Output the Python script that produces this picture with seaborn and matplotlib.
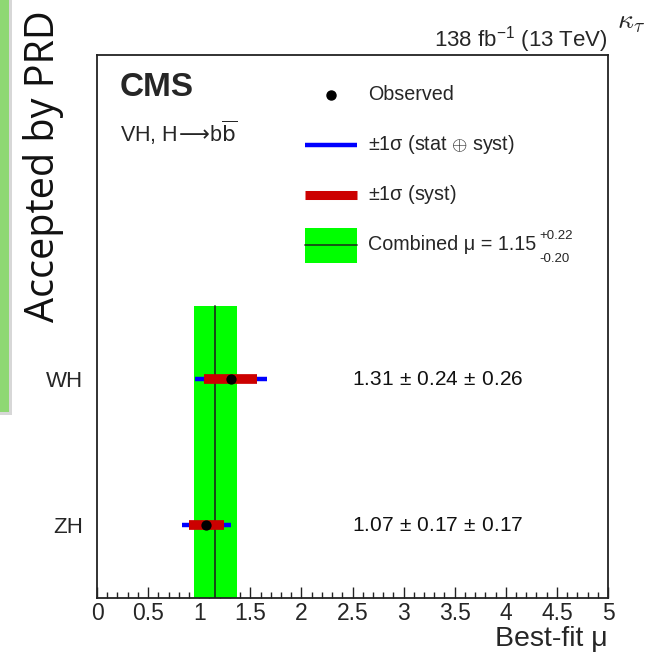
import numpy as np
import pandas as pd
import matplotlib
matplotlib.use("Agg")
import matplotlib.pyplot as plt
import seaborn as sns
from matplotlib.ticker import MultipleLocator
from matplotlib.patches import Rectangle

# ---- data ----
channels = ["WH", "ZH"]
mu = [1.31, 1.07]
stat_unc = [0.24, 0.17]
syst_unc = [0.26, 0.17]
comb_mu = 1.15
comb_up = 0.22
comb_dn = 0.20
ypos = [2, 1]
xticks = [0, 0.5, 1, 1.5, 2, 2.5, 3, 3.5, 4, 4.5, 5]
xticklabels = ["0", "0.5", "1", "1.5", "2", "2.5", "3", "3.5", "4", "4.5", "5"]

df = pd.DataFrame({"channel": channels, "mu": mu, "stat": stat_unc,
                   "syst": syst_unc, "y": ypos})
df["tot"] = np.sqrt(df["stat"] ** 2 + df["syst"] ** 2)

sns.set_theme(style="white")
plt.rcParams["font.family"] = ["Liberation Sans", "DejaVu Sans"]
plt.rcParams["mathtext.fontset"] = "custom"
plt.rcParams["mathtext.rm"] = "Liberation Sans"
plt.rcParams["mathtext.it"] = "Liberation Sans:italic"

W, H = 649, 653
fig = plt.figure(figsize=(W / 100, H / 100), dpi=100)
fig.patch.set_facecolor("white")

L, R, T, B = 97, 608, 55, 598
ax = fig.add_axes([L / W, 1 - B / H, (R - L) / W, (B - T) / H])
ax.set_facecolor("white")

# combined band
ax.fill_betweenx([0.5, 2.5], comb_mu - comb_dn, comb_mu + comb_up,
                 color="#00ff00", linewidth=0, zorder=1)
ax.plot([comb_mu, comb_mu], [0.5, 2.5], color="#1a3a1a", lw=1.3, zorder=2)

# error bars
ax.hlines(df["y"], df["mu"] - df["tot"], df["mu"] + df["tot"],
          color="#0000ff", lw=3.2, zorder=3)
ax.hlines(df["y"], df["mu"] - df["syst"], df["mu"] + df["syst"],
          color="#cc0000", lw=7, zorder=4)
sns.scatterplot(data=df, x="mu", y="y", color="black", s=55,
                edgecolor="black", linewidth=0, zorder=5, ax=ax)

for _, r in df.iterrows():
    ax.text(2.5, r["y"], f"{r['mu']:.2f}$\\,\\pm\\,${r['stat']:.2f}$\\,\\pm\\,${r['syst']:.2f}",
            fontsize=15, va="center", ha="left", color="#111111")

ax.set_xlim(0, 5)
ax.set_ylim(0.5, 4.22)
ax.set_xticks(xticks)
ax.set_xticklabels(xticklabels, fontsize=16.5)
ax.xaxis.set_minor_locator(MultipleLocator(0.1))
ax.set_yticks(ypos)
ax.set_yticklabels(channels, fontsize=16)
ax.tick_params(axis="x", which="major", direction="in", length=8, width=1, pad=3, color="#222222")
ax.tick_params(axis="x", which="minor", direction="in", length=4, width=1, color="#222222")
ax.tick_params(axis="y", length=0, pad=10)
ax.tick_params(bottom=True, which="both")
for s in ax.spines.values():
    s.set_linewidth(1.3)
    s.set_color("#222222")
ax.set_xlabel("")
ax.set_ylabel("")

def axf(px, py):
    return ((px - L) / (R - L), (B - py) / (B - T))

# CMS label
x0, y0 = axf(120, 88)
ax.text(x0, y0, "CMS", transform=ax.transAxes, fontsize=24, fontweight="bold",
        va="center", ha="left")
x0, y0 = axf(120, 133)
ax.text(x0, y0, "VH, H$\\!\\longrightarrow\\!$b$\\overline{\\mathrm{b}}$", transform=ax.transAxes,
        fontsize=15.5, va="center", ha="left", math_fontfamily="dejavusans")

# legend (manual)
sx0, _ = axf(305, 0)
sx1, _ = axf(357, 0)
tx, _ = axf(368, 0)
rows = [95, 145, 195, 245]
LFS = 14.2
_, yr = axf(0, rows[0])
ax.plot([(sx0 + sx1) / 2], [yr], "o", color="black", ms=6.5, transform=ax.transAxes, clip_on=False)
ax.text(tx, yr, "Observed", transform=ax.transAxes, fontsize=LFS, va="center")
_, yr = axf(0, rows[1])
ax.plot([sx0, sx1], [yr, yr], color="#0000ff", lw=3.2, transform=ax.transAxes,
        solid_capstyle="butt")
ax.text(tx, yr, "$\\pm$1σ (stat $\\oplus$ syst)", transform=ax.transAxes, fontsize=LFS,
        va="center")
_, yr = axf(0, rows[2])
ax.plot([sx0, sx1], [yr, yr], color="#cc0000", lw=6.5, transform=ax.transAxes,
        solid_capstyle="butt")
ax.text(tx, yr, "$\\pm$1σ (syst)", transform=ax.transAxes, fontsize=LFS, va="center")
_, yr = axf(0, rows[3])
_, ybot = axf(0, 263)
_, ytop = axf(0, 228)
ax.add_patch(Rectangle((sx0, ybot), sx1 - sx0, ytop - ybot, transform=ax.transAxes,
                       facecolor="#00ff00", edgecolor="none"))
ax.plot([sx0, sx1], [yr, yr], color="#1a3a1a", lw=1.2, transform=ax.transAxes)
ax.text(tx, yr, f"Combined μ = {comb_mu:.2f}", transform=ax.transAxes, fontsize=LFS, va="center")
ux, uy = axf(539, 236)
ax.text(ux, uy, f"+{comb_up:.2f}", transform=ax.transAxes, fontsize=9.5, va="center")
ux, uy = axf(539, 259)
ax.text(ux, uy, f"-{comb_dn:.2f}", transform=ax.transAxes, fontsize=9.5, va="center")

# top-right labels
fig.text(R / W, 1 - 40 / H, "138 fb$^{-1}$ (13 TeV)", fontsize=16, ha="right", va="center")
fig.text(631 / W, 1 - 22 / H, "$\\kappa_\\tau$", fontsize=20, ha="center", va="center",
         math_fontfamily="cm")
fig.text(R / W, 1 - 639 / H, "Best-fit μ", fontsize=20.5, ha="right", va="center")

# banner on the left
fig.patches.append(Rectangle((0, 1 - 415 / H), 12 / W, 415 / H, transform=fig.transFigure,
                             facecolor="#bdbdbd", edgecolor="none", alpha=0.6))
fig.patches.append(Rectangle((0, 1 - 412 / H), 8.5 / W, 412 / H, transform=fig.transFigure,
                             facecolor="#8ed873", edgecolor="none"))
fig.text(44 / W, 1 - 322 / H, "Accepted by PRD", rotation=90, fontsize=28.5,
         ha="center", va="bottom", family=["Open Sans", "DejaVu Sans"], color="#111111")

fig.savefig("out.png", dpi=100, facecolor="white")
